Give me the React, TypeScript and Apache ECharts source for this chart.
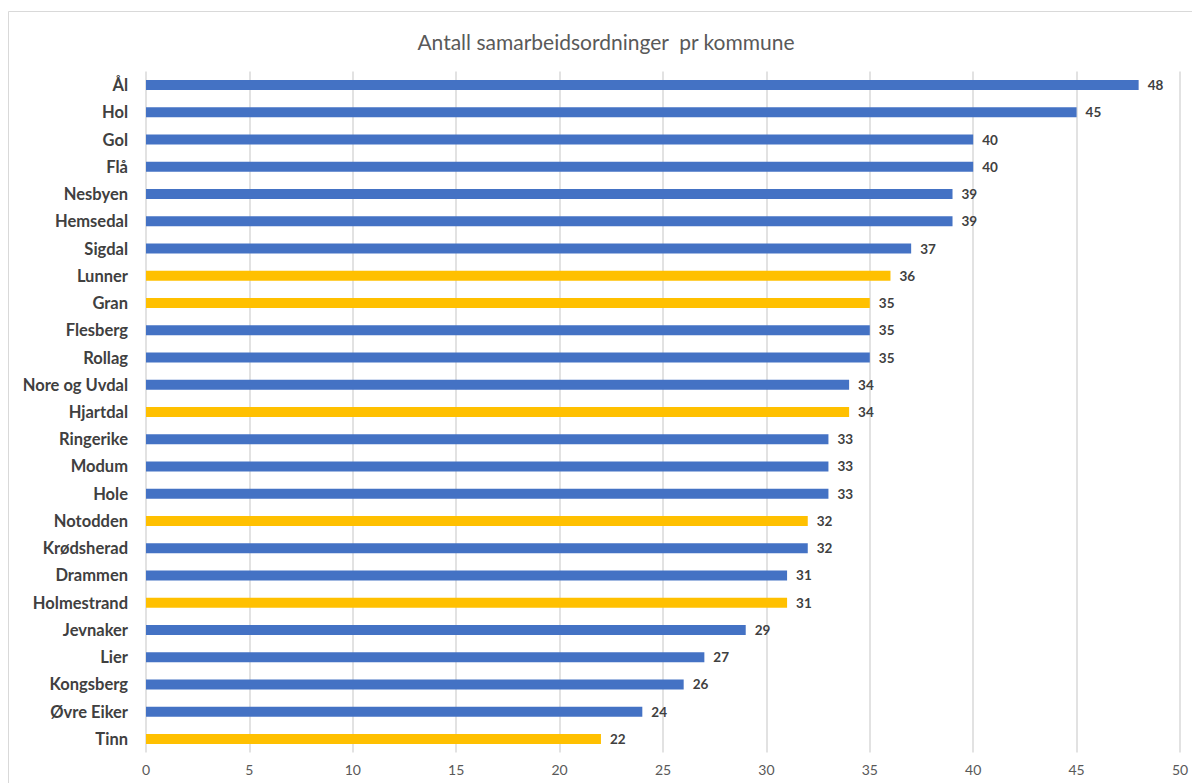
import React, { useEffect, useRef } from "react";
import * as echarts from "echarts";

const TITLE = "Antall samarbeidsordninger  pr kommune";

const categories = [
  "Ål", "Hol", "Gol", "Flå", "Nesbyen", "Hemsedal", "Sigdal", "Lunner", "Gran",
  "Flesberg", "Rollag", "Nore og Uvdal", "Hjartdal", "Ringerike", "Modum", "Hole",
  "Notodden", "Krødsherad", "Drammen", "Holmestrand", "Jevnaker", "Lier",
  "Kongsberg", "Øvre Eiker", "Tinn",
];

const values = [
  48, 45, 40, 40, 39, 39, 37, 36, 35, 35, 35, 34, 34, 33, 33, 33, 32, 32, 31, 31,
  29, 27, 26, 24, 22,
];

// true = highlighted (yellow) kommune
const highlighted = [
  false, false, false, false, false, false, false, true, true, false, false, false,
  true, false, false, false, true, false, false, true, false, false, false, false, true,
];

const xTicks = { min: 0, max: 50, interval: 5 };

const BLUE = "#4472C4";
const YELLOW = "#FFC000";
const FONT = "Lato, 'Open Sans', sans-serif";

export default function App() {
  const ref = useRef<HTMLDivElement>(null);

  useEffect(() => {
    document.body.style.margin = "0";
    document.body.style.overflow = "hidden";
    if (!ref.current) return;
    const chart = echarts.init(ref.current, null, { renderer: "svg" });
    chart.setOption({
      animation: false,
      backgroundColor: "#ffffff",
      graphic: [
        {
          type: "rect",
          shape: { x: 8.5, y: 11.5, width: 1300, height: 900 },
          style: { fill: "none", stroke: "#d9d9d9", lineWidth: 1 },
          silent: true,
          z: -10,
        },
      ],
      title: {
        text: TITLE,
        left: 601,
        top: 26,
        textAlign: "center",
        textStyle: {
          fontFamily: FONT,
          fontSize: 21,
          fontWeight: "normal",
          color: "#595959",
        },
      },
      grid: { left: 146, right: 12, top: 71.5, bottom: 30.5, containLabel: false },
      xAxis: {
        type: "value",
        min: xTicks.min,
        max: xTicks.max,
        interval: xTicks.interval,
        position: "bottom",
        axisLine: { show: false },
        axisTick: { show: false },
        splitLine: { show: true, lineStyle: { color: "#d9d9d9", width: 1.5 } },
        axisLabel: { color: "#595959", fontSize: 14, fontFamily: FONT, margin: 10 },
      },
      yAxis: {
        type: "category",
        data: categories,
        inverse: true,
        axisLine: { show: false },
        axisTick: { show: false },
        axisLabel: {
          color: "#404040",
          fontSize: 16.5,
          fontWeight: "bold",
          fontFamily: FONT,
          margin: 18,
        },
      },
      series: [
        {
          type: "bar",
          barWidth: 10,
          data: values.map((v, i) => ({
            value: v,
            itemStyle: { color: highlighted[i] ? YELLOW : BLUE },
          })),
          label: {
            show: true,
            position: "right",
            distance: 9,
            color: "#404040",
            fontSize: 13.5,
            fontWeight: "bold",
            fontFamily: FONT,
          },
        },
      ],
    });
    return () => chart.dispose();
  }, []);

  return <div ref={ref} style={{ width: 1192, height: 783 }} />;
}
